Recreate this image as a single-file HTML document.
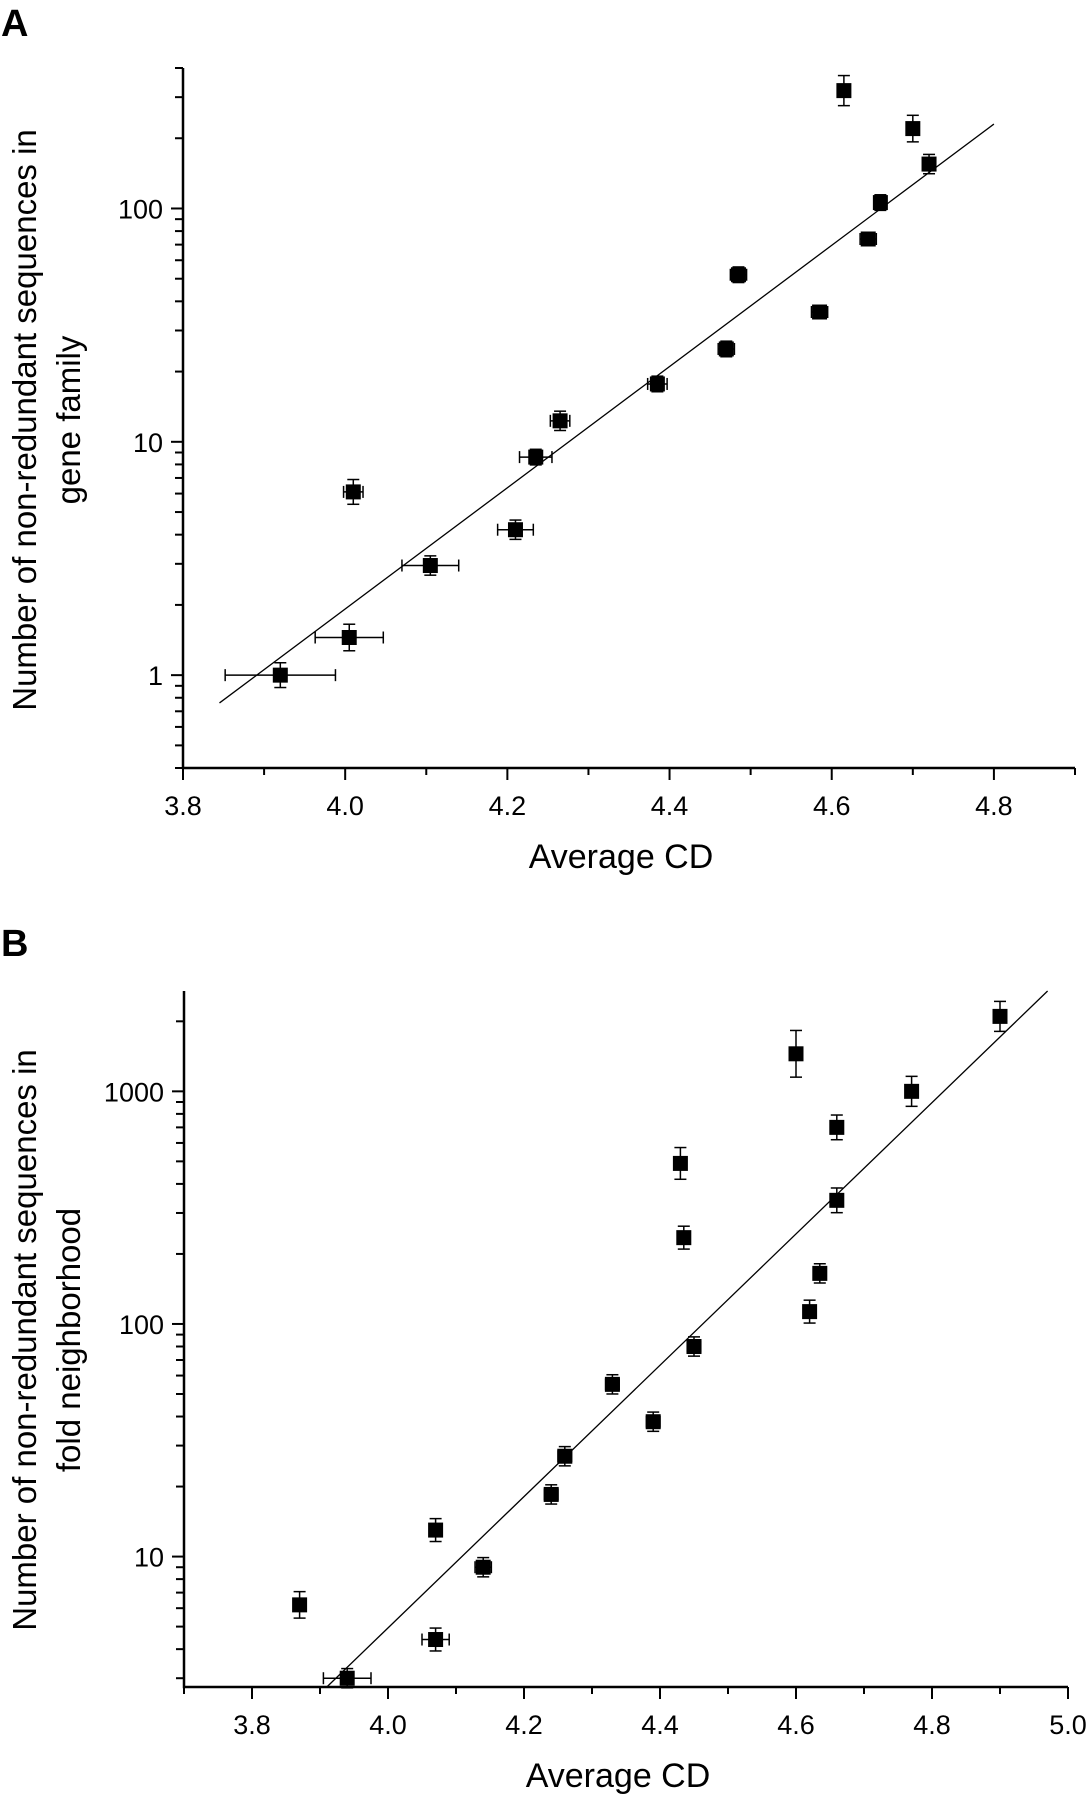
<!DOCTYPE html>
<html><head><meta charset="utf-8"><style>
html,body{margin:0;padding:0;background:#fff;}
svg{display:block;font-family:"Liberation Sans",sans-serif;}
</style></head><body>
<svg id="svg" width="1086" height="1800" viewBox="0 0 1086 1800" xmlns="http://www.w3.org/2000/svg"></svg>
<script>
// Panel A data
const aX=[3.92,4.005,4.01,4.105,4.21,4.235,4.265,4.385,4.47,4.485,4.585,4.615,4.645,4.66,4.70,4.72];
const aY=[1.0,1.45,6.1,2.95,4.2,8.6,12.3,17.7,25,52,36,320,74,106,220,155];
const aXerr=[0.068,0.042,0.012,0.035,0.022,0.02,0.012,0.012,0.01,0.01,0.01,0.004,0.01,0.006,0.004,0.006];
const aYerr=[0.13,0.14,0.13,0.1,0.1,0.08,0.1,0.08,0.08,0.08,0.06,0.16,0.06,0.08,0.14,0.1];
const aFit=[[3.845,0.76],[4.8,230]];
const aXTicks=[3.8,4.0,4.2,4.4,4.6,4.8];
const aYTicks=[1,10,100];
// Panel B data
const bX=[3.87,3.94,4.07,4.07,4.14,4.24,4.26,4.33,4.39,4.43,4.435,4.45,4.60,4.62,4.635,4.66,4.66,4.77,4.90];
const bY=[6.2,3.0,13,4.4,9,18.5,27,55,38,490,235,80,1450,113,165,700,340,1000,2100];
const bXerr=[0.005,0.035,0.008,0.02,0.012,0.01,0.01,0.01,0.01,0.004,0.004,0.01,0.004,0.006,0.006,0.006,0.006,0.006,0.006];
const bYerr=[0.14,0.1,0.12,0.12,0.1,0.1,0.1,0.1,0.1,0.17,0.12,0.1,0.26,0.12,0.1,0.13,0.13,0.16,0.16];
const bFit=[[3.91,2.75],[4.97,2700]];
const bXTicks=[3.8,4.0,4.2,4.4,4.6,4.8,5.0];
const bYTicks=[10,100,1000];

const NS="http://www.w3.org/2000/svg";
const svg=document.getElementById('svg');
function mk(tag,attrs,parent){const e=document.createElementNS(NS,tag);for(const k in attrs)e.setAttribute(k,attrs[k]);(parent||svg).appendChild(e);return e;}

function panel(cfg){
  const g=mk('g',{});
  
  
  const xs=v=>cfg.x0+(v-cfg.xmin)/(cfg.xmax-cfg.xmin)*(cfg.x1-cfg.x0);
  const ys=v=>cfg.yb-(Math.log10(v)-Math.log10(cfg.ymin))/(Math.log10(cfg.ymax)-Math.log10(cfg.ymin))*(cfg.yb-cfg.yt);
  const ax=mk('path',{d:`M${cfg.x0},${cfg.yt} V${cfg.yb} H${cfg.x1}`,fill:'none',stroke:'#000','stroke-width':2.5},g);
  
  
  for(let v=cfg.xmin;v<=cfg.xmax+1e-9;v+=0.1){
    const r=Math.round(v*10)/10; const X=xs(r);
    const major=cfg.xTicks.some(t=>Math.abs(t-r)<1e-6);
    mk('line',{x1:X,x2:X,y1:cfg.yb,y2:cfg.yb+(major?12:7),stroke:'#000','stroke-width':2},g);
  }
  cfg.xTicks.forEach(t=>{
    const tx=mk('text',{x:xs(t),y:cfg.yb+47,'text-anchor':'middle','font-size':27},g);
    tx.textContent=t.toFixed(1);
    
    
  });
  const lo=Math.floor(Math.log10(cfg.ymin)), hi=Math.ceil(Math.log10(cfg.ymax));
  for(let d=lo;d<=hi;d++){for(let m=1;m<10;m++){
    const v=m*Math.pow(10,d); if(v<cfg.ymin*0.999||v>cfg.ymax*1.001)continue;
    const Y=ys(v);
    mk('line',{x1:cfg.x0,x2:cfg.x0-(m===1?12:8),y1:Y,y2:Y,stroke:'#000','stroke-width':2},g);
  }}
  cfg.yTicks.forEach(t=>{
    const tx=mk('text',{x:cfg.x0-20,y:ys(t)+10,'text-anchor':'end','font-size':27},g);
    tx.textContent=String(t);
    
    
  });
  const fl=mk('line',{x1:xs(cfg.fit[0][0]),y1:ys(cfg.fit[0][1]),x2:xs(cfg.fit[1][0]),y2:ys(cfg.fit[1][1]),stroke:'#000','stroke-width':1.3},g);
  
  
  cfg.px.forEach((x,i)=>{
    const y=cfg.py[i], X=xs(x), Y=ys(y);
    const pg=mk('g',{stroke:'#000','stroke-width':1.5},g);
    
    
    const xl=xs(x-cfg.xerr[i]), xr=xs(x+cfg.xerr[i]);
    const f=1+cfg.yerr[i], yt=ys(y*f), yb=ys(y/f);
    mk('line',{x1:xl,x2:xr,y1:Y,y2:Y},pg);
    mk('line',{x1:xl,x2:xl,y1:Y-6,y2:Y+6},pg);
    mk('line',{x1:xr,x2:xr,y1:Y-6,y2:Y+6},pg);
    mk('line',{x1:X,x2:X,y1:yt,y2:yb},pg);
    mk('line',{x1:X-6,x2:X+6,y1:yt,y2:yt},pg);
    mk('line',{x1:X-6,x2:X+6,y1:yb,y2:yb},pg);
    mk('rect',{x:X-7.5,y:Y-7.5,width:15,height:15,fill:'#000',stroke:'none'},pg);
  });
  const pl=mk('text',{x:1,y:cfg.labelY,'font-size':38,'font-weight':'bold'},g);
  pl.textContent=cfg.letter;
  
  
  const xt=mk('text',{x:(cfg.x0+cfg.x1)/2-8,y:cfg.yb+100,'text-anchor':'middle','font-size':34},g);
  xt.textContent='Average CD';
  
  
  const yt=mk('text',{transform:`translate(36,${cfg.ytitleY}) rotate(-90)`,'text-anchor':'middle','font-size':33},g);
  
  
  const t1=mk('tspan',{x:0,dy:0},yt); t1.textContent='Number of non-redundant sequences in';
  const t2=mk('tspan',{x:0,dy:44},yt); t2.textContent=cfg.ytitle2;
}
panel({name:'panel-a',letter:'A',labelY:36,x0:183,x1:1075,yt:68,yb:768,xmin:3.8,xmax:4.9,ymin:0.4,ymax:400,
  xTicks:aXTicks,yTicks:aYTicks,fit:aFit,px:aX,py:aY,xerr:aXerr,yerr:aYerr,ytitleY:420,ytitle2:'gene family'});
panel({name:'panel-b',letter:'B',labelY:956,x0:184,x1:1068,yt:991,yb:1687,xmin:3.7,xmax:5.0,ymin:2.75,ymax:2700,
  xTicks:bXTicks,yTicks:bYTicks,fit:bFit,px:bX,py:bY,xerr:bXerr,yerr:bYerr,ytitleY:1340,ytitle2:'fold neighborhood'});
</script>
</body></html>
